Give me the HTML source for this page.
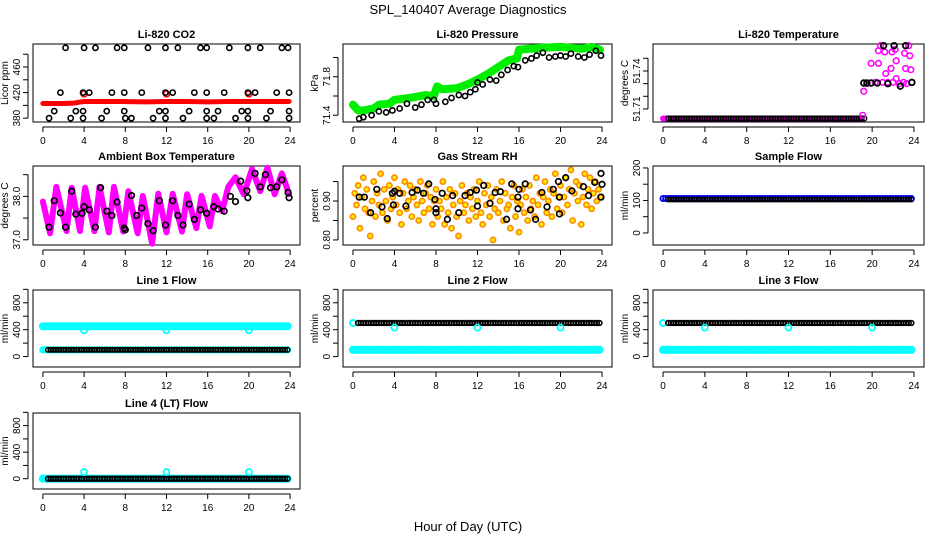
<!DOCTYPE html>
<html><head><meta charset="utf-8">
<style>
html,body{margin:0;padding:0;background:#fff;}
svg{display:block;font-family:"Liberation Sans",sans-serif;}
</style></head>
<body>
<svg id="chart" width="936" height="540" viewBox="0 0 936 540" xmlns="http://www.w3.org/2000/svg">
<text x="468" y="14" font-size="13" text-anchor="middle">SPL_140407  Average Diagnostics</text>
<text x="468" y="531" font-size="13" text-anchor="middle">Hour of Day (UTC)</text>
</svg>
<script>
// ---------- data ----------
const xTicks = [0,4,8,12,16,20,24];
// CO2
const co2RedHours = [0,1,2,3,3.5,4,6,8,10,12,14,16,18,20,22,23.9];
const co2RedVals  = [403,403,403,403.5,405,406,406,406,405.5,406,406,405.5,406,406,406,406];
const co2RedSpotH = [4,12,20];
const co2RedSpotV = [418,418,418];
const co2BlkH = [2.2,4.0,5.1,7.2,7.9,10.2,11.9,13.1,15.3,15.9,18.1,19.9,21.1,23.2,23.8,
 1.7,3.9,4.5,6.7,7.9,9.6,11.9,12.6,14.7,15.9,17.6,19.9,20.6,22.7,23.9,
 1.1,3.2,3.9,6.2,7.9,11.3,11.9,14.2,15.9,17.0,19.3,19.9,22.1,23.9,
 0.6,2.7,3.9,5.7,8.0,8.6,10.7,11.9,13.6,15.9,16.6,18.7,19.9,21.7,23.9];
const co2BlkV = [490,490,490,490,490,490,490,490,490,490,490,490,490,490,490,
 420,420,420,420,420,420,420,420,420,420,420,420,420,420,420,
 391,391,391,391,391,391,391,391,391,391,391,391,391,391,
 380,380,380,380,380,380,380,380,380,380,380,380,380,380,380];
// Pressure
const prGreenH = [0,0.5,1,2,2.5,3.5,4,5.5,7,7.8,8.1,8.6,10,11,12,13,14,15,15.8,16,18,20,22,23,23.8];
const prGreenV = [71.51,71.45,71.45,71.47,71.51,71.52,71.56,71.58,71.61,71.60,71.70,71.67,71.68,71.72,71.77,71.83,71.90,71.97,71.99,72.08,72.10,72.11,72.09,72.11,72.08];
const prBlkH = [0.6,1,1.8,2.5,3.2,3.8,4.5,5.2,6,6.6,7.2,7.8,8,8.9,9.5,10.2,10.8,11.3,11.8,12,12.5,13.2,13.8,14.3,14.9,15.5,15.9,16.6,17.2,17.7,18.3,18.9,19.5,20,20.5,21,21.7,22.3,22.8,23.4,23.9];
const prBlkV = [71.365,71.38,71.40,71.44,71.43,71.45,71.47,71.52,71.48,71.51,71.56,71.56,71.52,71.54,71.58,71.61,71.60,71.64,71.67,71.74,71.72,71.77,71.76,71.82,71.87,71.91,71.90,71.97,71.99,72.02,72.05,72.00,72.01,72.02,72.01,72.04,72.01,72.00,72.03,72.07,72.02];
// Temperature
const tLowMag = [51.7025,51.7025];
const tLowHours = [0,19];
const tLowBlack = [51.7025,51.7025,51.7025,51.7025,51.7025,51.7025,51.7025,51.7025,51.7025,51.7025,51.7025,51.7025,51.7025,51.7025,51.7025,51.7025,51.7025,51.7025,51.7025];
const tMagH = [19.1,19.2,19.5,19.9,20.6,20.6,20.8,21.2,21.3,21.5,21.8,21.9,22.2,22.3,22.3,22.6,23.1,23.2,23.3,23.5,23.6,23.7,23.8,22.0,23.0,21.0,20.3];
const tMagV = [51.705,51.724,51.730,51.746,51.746,51.756,51.760,51.755,51.738,51.731,51.742,51.755,51.757,51.734,51.748,51.730,51.754,51.742,51.730,51.760,51.752,51.741,51.731,51.731,51.731,51.731,51.731];
const tBlkH = [19.2,19.5,19.9,20.5,21.1,21.5,22.1,22.7,23.2,23.8];
const tBlkV = [51.7305,51.7305,51.7305,51.7305,51.760,51.730,51.760,51.728,51.760,51.731];
// Ambient
const ambMagH = [0,0.7,1.3,2.3,2.8,3.6,4.1,5.0,5.5,6.4,6.9,7.8,8.3,9.2,9.7,10.6,11.2,12.0,12.6,13.5,14.0,14.9,15.4,16.2,16.7,17.4,18.0,18.7,19.5,20.3,21.1,21.8,22.5,23.2,23.9];
const ambMagV = [37.88,37.15,38.22,37.20,38.20,37.20,38.20,37.20,38.22,37.17,38.22,37.19,38.12,37.15,38.01,36.91,38.06,37.17,38.06,37.19,38.05,37.27,38.01,37.31,38.01,37.66,38.22,38.44,38.05,38.63,38.12,38.66,38.05,38.53,38.05];
const ambBlkH = [0.6,1.1,1.7,2.2,2.8,3.2,3.8,4.0,4.5,5.1,5.6,6.2,6.7,7.2,7.9,8.0,8.6,9.1,9.6,10.2,10.7,11.3,11.9,12.6,13.1,13.6,14.2,14.7,15.3,15.9,16.6,17.0,17.6,18.2,18.7,19.2,19.8,19.9,20.6,21.1,21.6,22.1,22.7,23.2,23.8,23.9];
const ambBlkV = [37.29,37.90,37.62,37.29,38.12,37.59,37.61,37.76,37.69,37.29,38.20,37.66,37.56,37.87,37.27,37.23,38.02,37.56,37.73,37.37,37.21,37.90,37.34,37.90,37.56,37.34,37.82,37.47,37.69,37.61,37.76,37.71,37.66,38.00,37.88,38.35,38.13,37.97,38.53,38.22,38.50,38.20,38.22,38.38,38.09,37.97];
// Gas RH (every 10 minutes)
const rhVals = [0.86,0.92,0.89,0.94,0.83,0.91,0.96,0.88,0.93,0.87,0.81,0.90,0.95,0.86,0.92,0.89,0.97,0.87,0.93,0.90,0.85,0.94,0.88,0.91,
0.96,0.89,0.93,0.87,0.84,0.92,0.95,0.88,0.90,0.94,0.86,0.91,0.93,0.89,0.85,0.95,0.90,0.87,0.92,0.94,0.88,0.91,0.84,0.90,
0.93,0.86,0.90,0.88,0.95,0.84,0.91,0.87,0.93,0.83,0.89,0.92,0.86,0.81,0.90,0.94,0.87,0.89,0.92,0.85,0.91,0.88,0.93,0.86,
0.90,0.95,0.87,0.84,0.92,0.89,0.94,0.86,0.91,0.80,0.88,0.93,0.87,0.90,0.95,0.85,0.92,0.88,0.89,0.83,0.91,0.94,0.86,0.90,
0.82,0.89,0.93,0.87,0.91,0.85,0.94,0.88,0.90,0.86,0.96,0.89,0.92,0.84,0.91,0.95,0.87,0.90,0.93,0.86,0.92,0.97,0.88,0.91,
0.94,0.87,0.91,0.96,0.89,0.93,0.98,0.85,0.92,0.95,0.90,0.94,0.84,0.91,0.97,0.89,0.93,0.96,0.88,0.92,0.95,0.90,0.93,0.91];
const rhBlkH = [0.6,1.1,1.7,2.3,2.8,3.3,3.8,3.9,4.0,4.5,5.1,5.7,6.2,6.8,7.3,7.9,8.0,8.0,8.6,9.1,9.6,10.2,10.8,11.3,11.9,12.0,12.6,13.2,13.7,14.2,14.8,15.3,15.9,15.9,16.0,16.6,17.1,17.6,18.2,18.7,19.3,19.8,19.9,19.9,20.5,21.1,22.2,22.7,23.3,23.9,24.0,23.9];
const rhBlkV = [0.91,0.91,0.87,0.93,0.885,0.855,0.92,0.89,0.925,0.92,0.887,0.922,0.928,0.92,0.944,0.904,0.88,0.87,0.92,0.853,0.914,0.87,0.914,0.922,0.928,0.887,0.94,0.894,0.922,0.924,0.853,0.944,0.91,0.88,0.93,0.944,0.877,0.853,0.922,0.885,0.93,0.95,0.91,0.867,0.96,0.926,0.937,0.914,0.948,0.971,0.943,0.91];
// Flows: hourly values (4 markers drawn per hour)
const sampleBlue  = [106,106,106,106,106,106,106,106,106,106,106,106,106,106,106,106,106,106,106,106,106,106,106,106];
const sampleBlack = [103,103,103,103,103,103,103,103,103,103,103,103,103,103,103,103,103,103,103,103,103,103,103,103];
const line1Upper  = [450,450,450,450,450,450,450,450,450,450,450,450,450,450,450,450,450,450,450,450,450,450,450,450];
const line1Lower  = [100,100,100,100,100,100,100,100,100,100,100,100,100,100,100,100,100,100,100,100,100,100,100,100];
const line23Black = [500,500,500,500,500,500,500,500,500,500,500,500,500,500,500,500,500,500,500,500,500,500,500,500];
const line23Cyan  = [100,100,100,100,100,100,100,100,100,100,100,100,100,100,100,100,100,100,100,100,100,100,100,100];
const line4Vals   = [0,0,0,0,0,0,0,0,0,0,0,0,0,0,0,0,0,0,0,0,0,0,0,0];
const calHours = [4,12,20];
const line1Cal = [390,390,390];
const line23Cal = [430,430,430];
const line4Cal = [100,100,100];

// ---------- drawing ----------
const NS = "http://www.w3.org/2000/svg";
const svg = document.getElementById('chart');
const colX = [[33,300],[343,612],[653,924]];
const rowY = [[44,122],[166,245],[290,367],[413,489]];
function mk(tag, attrs, parent){
  const e = document.createElementNS(NS, tag);
  for (const k in attrs) e.setAttribute(k, attrs[k]);
  (parent||svg).appendChild(e);
  return e;
}
function panel(col,row,name,title,ylab,ylim,yt,yl){
  const [x0,x1] = colX[col], [y0,y1] = rowY[row];
  const g = mk('g',{});
  
  
  const sx = h => x0 + (h + 0.96) / 25.92 * (x1 - x0);
  const sy = v => y1 - (v - ylim[0]) / (ylim[1] - ylim[0]) * (y1 - y0);
  const box = mk('rect',{x:x0,y:y0,width:x1-x0,height:y1-y0,fill:'none',stroke:'#000','stroke-width':1},g);
  
  
  const t = mk('text',{x:(x0+x1)/2,y:y0-6,'font-size':11,'font-weight':'bold','text-anchor':'middle'},g);
  t.textContent = title;
  
  
  const xa = mk('g',{},g);
  
  
  mk('line',{x1:sx(0),x2:sx(24),y1:y1+5,y2:y1+5,stroke:'#000'},xa);
  xTicks.forEach(v=>{
    mk('line',{x1:sx(v),x2:sx(v),y1:y1+5,y2:y1+10,stroke:'#000'},xa);
    const l = mk('text',{x:sx(v),y:y1+22,'font-size':10,'text-anchor':'middle'},xa);
    l.textContent = v;
  });
  const ya = mk('g',{},g);
  
  
  mk('line',{x1:x0-5,x2:x0-5,y1:sy(yt[0]),y2:sy(yt[yt.length-1]),stroke:'#000'},ya);
  yt.forEach((v,i)=>{
    mk('line',{x1:x0-10,x2:x0-5,y1:sy(v),y2:sy(v),stroke:'#000'},ya);
    if (yl[i] !== ''){
      const l = mk('text',{x:0,y:0,'font-size':10,'text-anchor':'middle',transform:`translate(${x0-13},${sy(v)}) rotate(-90)`},ya);
      l.textContent = yl[i];
    }
  });
  const yt2 = mk('text',{x:0,y:0,'font-size':10,'text-anchor':'middle',transform:`translate(${x0-25},${(y0+y1)/2}) rotate(-90)`},g);
  yt2.textContent = ylab;
  
  
  return {g,sx,sy};
}
function pts(p,hs,vs,color,r,sw,fill,nm){
  const gg = mk('g',{},p.g);
  
  
  hs.forEach((h,i)=>{
    mk('circle',{cx:p.sx(h),cy:p.sy(vs[i]),r:r,fill:fill||'none',stroke:color,'stroke-width':sw},gg);
  });
}
function band(p,hs,vs,color,w,nm){
  const pl = mk('polyline',{points:hs.map((h,i)=>p.sx(h)+','+p.sy(vs[i])).join(' '),fill:'none',stroke:color,'stroke-width':w,'stroke-linejoin':'round','stroke-linecap':'round'},p.g);
  
  
}
function hourly(p,arr,start,color,r,sw,nm){
  const hs=[],vs=[];
  arr.forEach((v,h)=>{ for(let k=0;k<4;k++){ const x=h+k*0.25+start; if(x<=23.95){hs.push(x);vs.push(v);} } });
  pts(p,hs,vs,color,r,sw,null,nm);
}

let p = panel(0,0,'co2','Li-820 CO2','Licor ppm',[374,496],[380,400,420,440,460,480],['380','','420','','460','']);
band(p,co2RedHours,co2RedVals,'#ff0000',5,'co2-red-series');
pts(p,co2RedSpotH,co2RedSpotV,'#ff0000',3,1.6,null,'co2-red-spots');
pts(p,co2BlkH,co2BlkV,'#000',2.6,1.6,null,'co2-black-points');

p = panel(1,0,'pressure','Li-820 Pressure','kPa',[71.33,72.14],[71.4,71.6,71.8,72.0],['71.4','','71.8','']);
band(p,prGreenH,prGreenV,'#00ee00',8,'pressure-green-series');
pts(p,prBlkH,prBlkV,'#000',2.6,1.6,null,'pressure-black-points');

p = panel(2,0,'temperature','Li-820 Temperature','degrees C',[51.6997,51.7613],[51.71,51.72,51.73,51.74,51.75],['51.71','','','51.74','']);
band(p,tLowHours,tLowMag,'#ff00ff',6,'temperature-magenta-low');
hourly(p,tLowBlack,0.5,'#000',2.4,1.4,'temperature-black-low');
pts(p,tMagH,tMagV,'#ff00ff',2.8,1.6,null,'temperature-magenta-points');
pts(p,tBlkH,tBlkV,'#000',2.8,1.8,null,'temperature-black-points');

p = panel(0,1,'ambient','Ambient Box Temperature','degrees C',[36.88,38.70],[37,37.5,38,38.5],['37.0','','38.0','']);
band(p,ambMagH,ambMagV,'#ff00ff',6,'ambient-magenta-series');
pts(p,ambBlkH,ambBlkV,'#000',2.8,1.7,null,'ambient-black-points');

p = panel(1,1,'gas-rh','Gas Stream RH','percent',[0.787,0.99],[0.80,0.85,0.90,0.95],['0.80','','0.90','']);
pts(p,rhVals.map((v,i)=>i/6),rhVals,'#ff8800',2.6,1.6,'#ffee00','rh-orange-points');
pts(p,rhBlkH,rhBlkV,'#000',2.8,1.7,null,'rh-black-points');

p = panel(2,1,'sample-flow','Sample Flow','ml/min',[-37,206],[0,50,100,150,200],['0','','100','','200']);
hourly(p,sampleBlue,0,'#0000ff',2.6,1.8,'sample-blue-series');
hourly(p,sampleBlack,0.5,'#000',2.3,1.4,'sample-black-series');

p = panel(0,2,'line1','Line 1 Flow','ml/min',[-155,990],[0,200,400,600,800,1000],['0','','400','','800','']);
hourly(p,line1Upper,0,'#00ffff',2.8,2.5,'line1-cyan-upper');
hourly(p,line1Lower,0,'#00ffff',2.6,2,'line1-cyan-lower');
hourly(p,line1Lower,0.5,'#000',2.3,1.5,'line1-black-series');
pts(p,calHours,line1Cal,'#00ffff',3,1.8,null,'line1-cal-points');

[[1,'line2','Line 2 Flow'],[2,'line3','Line 3 Flow']].forEach(([c,n,t])=>{
  const q = panel(c,2,n,t,'ml/min',[-155,990],[0,200,400,600,800,1000],['0','','400','','800','']);
  hourly(q,line23Cyan,0,'#00ffff',2.8,2.5,n+'-cyan-series');
  pts(q,[0],[500],'#00ffff',3,2,null,n+'-cyan-start');
  hourly(q,line23Black,0.5,'#000',2.4,1.6,n+'-black-series');
  pts(q,calHours,line23Cal,'#00ffff',3,1.8,null,n+'-cal-points');
});

p = panel(0,3,'line4','Line 4 (LT) Flow','ml/min',[-155,990],[0,200,400,600,800,1000],['0','','400','','800','']);
hourly(p,line4Vals,0,'#00ffff',2.8,2.5,'line4-cyan-series');
hourly(p,line4Vals,0.5,'#000',2.4,1.6,'line4-black-series');
pts(p,calHours,line4Cal,'#00ffff',3,1.8,null,'line4-cal-points');
</script>
</body></html>
